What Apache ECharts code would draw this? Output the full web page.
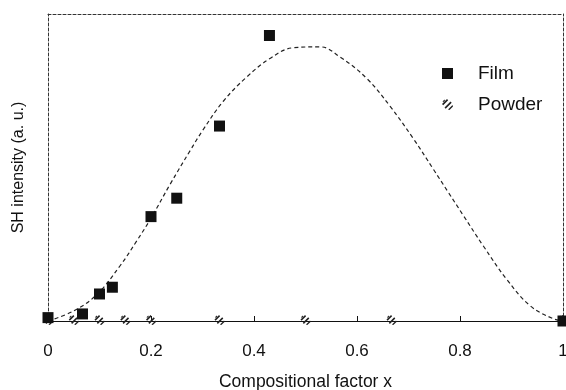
<!DOCTYPE html>
<html>
<head>
	<meta charset="UTF-8">
	<title>SH intensity</title>
	<script src="https://cdn.jsdelivr.net/npm/echarts@6/dist/echarts.min.js"></script>
	<style>
		* { margin: 0; padding: 0; }
		html, body { background: #fff; }
		#app { width: 566px; height: 390px; }
	</style>
</head>
<body>
	<div id="app"></div>
	<script>
		// values (y in arbitrary units, top border = 100)
		var filmX = [0, 0.067, 0.1, 0.125, 0.2, 0.25, 0.333, 0.43, 1];
		var filmY = [1.1, 2.3, 8.8, 11, 34, 40, 63.5, 93, 0];

		var powderX = [0, 0.05, 0.1, 0.15, 0.2, 0.333, 0.5, 0.667, 1];
		var powderY = [0.3, 0.3, 0.3, 0.3, 0.3, 0.3, 0.3, 0.3, 0.3];

		// dashed guide curve
		var curveX = [0, 0.05, 0.094, 0.14, 0.172, 0.2, 0.237, 0.276, 0.3, 0.34, 0.386, 0.431, 0.476,
			0.528, 0.567, 0.619, 0.664, 0.709, 0.748, 0.777, 0.806, 0.845, 0.891, 0.936, 0.98, 1];
		var curveY = [0, 3.3, 8.5, 18, 26, 33.5, 44.5, 55.5, 62, 71.5, 79.5, 85.5, 89,
			89.3, 86, 79, 70, 59.5, 49.5, 42, 34.5, 24.5, 13.5, 5, 0.8, 0];

		var xTicks = [0, 0.2, 0.4, 0.6, 0.8, 1];

		function zip(a, b) {
			var out = [];
			for (var i = 0; i < a.length; i++) out.push([a[i], b[i]]);
			return out;
		}

		var hatch = 'path://M0,5 L5,0 L6.2,1.2 L1.2,6.2 Z M2.5,8.5 L8.5,2.5 L9.7,3.7 L3.7,9.7 Z M6,10.5 L10.5,6 L11,7.5 L7.5,11 Z M0.5,2.5 L2.5,0.5 L3,1.5 L1.5,3 Z';
		var font = 'Liberation Sans, Arial, sans-serif';
		var dash = { color: '#333', width: 1, type: [3, 2] };

		var myChart = echarts.init(document.getElementById('app'));

		var option = {
			backgroundColor: '#fff',
			animation: false,
			grid: { left: 48, right: 3, top: 14, bottom: 69, outerBoundsMode: 'none' },
			legend: {
				left: 437,
				top: 59,
				orient: 'vertical',
				itemGap: 12,
				itemWidth: 11,
				itemHeight: 11,
				textStyle: { fontFamily: font, fontSize: 19, color: '#111', padding: [0, 0, 0, 20] },
				data: [
					{ name: 'Film', icon: 'rect' },
					{ name: 'Powder', icon: hatch }
				]
			},
			xAxis: [{
				type: 'value',
				min: 0,
				max: 1,
				interval: 0.2,
				name: 'Compositional factor x',
				nameLocation: 'middle',
				nameGap: 52,
				nameTextStyle: { fontFamily: font, fontSize: 17.5, color: '#111' },
				axisLine: { onZero: false, lineStyle: { color: '#111', width: 1 } },
				axisTick: { inside: true, length: 5, lineStyle: { color: '#111' } },
				axisLabel: {
					margin: 22,
					fontFamily: font,
					fontSize: 17,
					color: '#111',
					formatter: function (v) { return xTicks.indexOf(v) >= 0 ? String(v) : ''; }
				},
				splitLine: { show: false }
			}, {
				type: 'value',
				position: 'top',
				min: 0,
				max: 1,
				axisLine: { show: true, onZero: false, lineStyle: dash },
				axisTick: { show: false },
				axisLabel: { show: false },
				splitLine: { show: false }
			}],
			yAxis: [{
				type: 'value',
				min: 0,
				max: 100,
				name: 'SH intensity (a. u.)',
				nameLocation: 'middle',
				nameGap: 21,
				nameTextStyle: { fontFamily: font, fontSize: 16, color: '#111' },
				axisLine: { show: true, onZero: false, lineStyle: dash },
				axisTick: { show: false },
				axisLabel: { show: false },
				splitLine: { show: false }
			}, {
				type: 'value',
				position: 'right',
				min: 0,
				max: 100,
				axisLine: { show: true, onZero: false, lineStyle: dash },
				axisTick: { show: false },
				axisLabel: { show: false },
				splitLine: { show: false }
			}],
			series: [{
				name: 'curve',
				type: 'line',
				smooth: 0.4,
				symbol: 'none',
				lineStyle: { color: '#222', width: 1.2, type: [4, 3] },
				data: zip(curveX, curveY),
				z: 2
			}, {
				name: 'Powder',
				type: 'scatter',
				symbol: hatch,
				symbolSize: 10,
				itemStyle: { color: '#222', opacity: 1 },
				clip: false,
				data: zip(powderX, powderY),
				z: 3
			}, {
				name: 'Film',
				type: 'scatter',
				symbol: 'rect',
				symbolSize: 11,
				itemStyle: { color: '#111', opacity: 1 },
				clip: false,
				data: zip(filmX, filmY),
				z: 4
			}]
		};

		myChart.setOption(option);
	</script>
</body>
</html>
